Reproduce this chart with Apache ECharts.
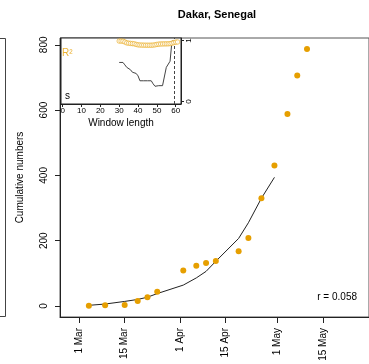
<!DOCTYPE html>
<html>
<head>
<meta charset="utf-8">
<script src="https://cdn.jsdelivr.net/npm/echarts@6/dist/echarts.min.js"></script>
<style>
  html, body { margin: 0; padding: 0; background: #fff; }
  #chart { width: 369px; height: 364px; }
</style>
</head>
<body>
<div id="chart"></div>
<script>
// Reported cumulative cases, Dakar
const reportDates = ['2020-03-04','2020-03-09','2020-03-15','2020-03-19','2020-03-22','2020-03-25',
  '2020-04-02','2020-04-06','2020-04-09','2020-04-12','2020-04-19','2020-04-22','2020-04-26',
  '2020-04-30','2020-05-04','2020-05-07','2020-05-10'];
const cumulativeCases = [1, 2, 3, 15, 27, 44, 109, 123, 132, 138, 168, 208, 330, 430, 588, 706, 787];
// Exponential fit evaluated at the first 14 report dates
const fittedCases = [2, 6, 14, 20, 27, 38, 64, 86, 106, 137, 207, 255, 330, 394];
const growthRateLabel = 'r = 0.058';

// Date axis ticks
const dateTickDays = [0, 14, 31, 45, 61, 75];
const dateTickLabels = ['1 Mar', '15 Mar', '1 Apr', '15 Apr', '1 May', '15 May'];
const caseTicks = [0, 200, 400, 600, 800];

// Window-length scan (inset)
const windowLengths = [30,31,32,33,34,35,36,37,38,39,40,41,42,43,44,45,46,47,48,49,50,
  51,52,53,54,55,56,57,58,59,60,61];
const rSquared = [0.99,0.99,0.988,0.975,0.96,0.955,0.952,0.948,0.945,0.935,0.928,0.925,
  0.924,0.923,0.922,0.922,0.922,0.922,0.924,0.928,0.935,0.94,0.942,0.943,0.944,0.944,
  0.945,0.948,0.955,0.965,0.972,0.975];
const sWindows = [30,31,32,33,34,35,36,37,38,39,40,41,42,43,44,45,46,47,48,49,50,
  51,52,53,54,55,56,57,58,59];
const sValues = [0.64,0.64,0.64,0.60,0.56,0.56,0.52,0.48,0.46,0.46,0.42,0.34,0.34,0.34,
  0.34,0.34,0.34,0.34,0.29,0.25,0.25,0.26,0.26,0.26,0.26,0.56,0.56,0.66,0.99,0.99];
const chosenWindow = 59;
const windowTicks = [0, 10, 20, 30, 40, 50, 60];
const r2Ticks = [0, 1];

const origin = Date.UTC(2020, 2, 1);
function dayOf(s) {
  const p = s.split('-').map(Number);
  return (Date.UTC(p[0], p[1] - 1, p[2]) - origin) / 86400000;
}
const days = reportDates.map(dayOf);
const casePoints = days.map((d, i) => [d, cumulativeCases[i]]);
const fitPoints = fittedCases.map((v, i) => [days[i], v]);
const r2Points = windowLengths.map((w, i) => [w, rSquared[i]]);
const sPoints = sWindows.map((w, i) => [w, sValues[i]]);

const FONT = 'Liberation Sans, Arial, Helvetica, sans-serif';
const ORANGE = '#E69F00';
const INK = '#222';

const chart = echarts.init(document.getElementById('chart'), null, { renderer: 'canvas' });
chart.setOption({
  animation: false,
  backgroundColor: '#fff',
  textStyle: { fontFamily: FONT },
  grid: [
    { left: 60, top: 38, width: 314, height: 279, show: true, borderColor: '#555', borderWidth: 1, backgroundColor: 'transparent' },
    { left: 61, top: 38, width: 120, height: 66, show: true, borderColor: '#222', borderWidth: 1, backgroundColor: '#fff', z: 5 }
  ],
  xAxis: [
    {
      type: 'value', gridIndex: 0, min: -5.86, max: 89.04,
      splitLine: { show: false },
      axisLine: { show: true, onZero: false, lineStyle: { color: INK } },
      axisTick: { show: true, length: 6, lineStyle: { color: INK }, customValues: dateTickDays },
      axisLabel: {
        rotate: 90, margin: 11, fontSize: 10, color: '#000', fontFamily: FONT,
        customValues: dateTickDays,
        formatter: v => dateTickLabels[dateTickDays.indexOf(v)] || ''
      }
    },
    {
      type: 'value', gridIndex: 1, min: -0.9, max: 62.8, z: 6,
      splitLine: { show: false },
      axisLine: { show: true, onZero: false, lineStyle: { color: INK } },
      axisTick: { show: true, length: 3, lineStyle: { color: INK }, customValues: windowTicks },
      axisLabel: { margin: 3, fontSize: 8, color: '#000', fontFamily: FONT, customValues: windowTicks },
      name: 'Window length', nameLocation: 'middle', nameGap: 14,
      nameTextStyle: { fontSize: 10, color: '#000', fontFamily: FONT }
    }
  ],
  yAxis: [
    {
      type: 'value', gridIndex: 0, min: -33.7, max: 820.8,
      splitLine: { show: false },
      axisLine: { show: true, onZero: false, lineStyle: { color: INK } },
      axisTick: { show: true, length: 5, lineStyle: { color: INK }, customValues: caseTicks },
      axisLabel: { rotate: 90, margin: 11, fontSize: 10, color: '#000', fontFamily: FONT, customValues: caseTicks },
      name: 'Cumulative numbers', nameLocation: 'middle', nameGap: 35, nameRotate: 90,
      nameTextStyle: { fontSize: 10, color: '#000', fontFamily: FONT }
    },
    {
      type: 'value', gridIndex: 1, position: 'right', min: -0.04, max: 1.04, z: 6,
      splitLine: { show: false },
      axisLine: { show: true, onZero: false, lineStyle: { color: INK } },
      axisTick: { show: true, length: 3, lineStyle: { color: INK }, customValues: r2Ticks },
      axisLabel: { rotate: 90, margin: 4, fontSize: 8, color: '#000', fontFamily: FONT, customValues: r2Ticks }
    },
    {
      type: 'value', gridIndex: 1, position: 'left', min: -0.04, max: 1.04, show: false
    }
  ],
  series: [
    {
      type: 'line', xAxisIndex: 0, yAxisIndex: 0, data: fitPoints,
      showSymbol: false, symbol: 'none', smooth: false,
      lineStyle: { color: '#222', width: 1 }, z: 3
    },
    {
      type: 'scatter', xAxisIndex: 0, yAxisIndex: 0, data: casePoints,
      symbol: 'circle', symbolSize: 6,
      itemStyle: { color: ORANGE, opacity: 1 }, z: 4
    },
    {
      type: 'scatter', xAxisIndex: 1, yAxisIndex: 1, data: r2Points,
      symbol: 'circle', symbolSize: 4.5, z: 7,
      itemStyle: { color: '#fff', borderColor: 'rgba(230,159,0,0.7)', borderWidth: 1 }
    },
    {
      type: 'line', xAxisIndex: 1, yAxisIndex: 2, data: sPoints,
      showSymbol: false, symbol: 'none', z: 7,
      lineStyle: { color: '#444', width: 1 },
      markLine: {
        silent: true, symbol: 'none', label: { show: false },
        lineStyle: { color: '#444', type: [3, 2], width: 1 },
        data: [{ xAxis: chosenWindow }]
      }
    }
  ],
  graphic: [
    {
      type: 'text', x: 217, y: 15, z: 10,
      style: { text: 'Dakar, Senegal', font: 'bold 11px ' + FONT, fill: '#000', align: 'center', verticalAlign: 'middle' }
    },
    {
      type: 'text', x: 357, y: 297, z: 10,
      style: { text: growthRateLabel, font: '10px ' + FONT, fill: '#000', align: 'right', verticalAlign: 'middle' }
    },
    {
      type: 'text', x: 62, y: 53, z: 10,
      style: { text: 'R²', font: '10px ' + FONT, fill: 'rgba(230,159,0,0.8)', align: 'left', verticalAlign: 'middle' }
    },
    {
      type: 'text', x: 65, y: 96, z: 10,
      style: { text: 's', font: '10px ' + FONT, fill: '#000', align: 'left', verticalAlign: 'middle' }
    },
    {
      type: 'polyline', z: 10,
      shape: { points: [[0, 38.5], [5.5, 38.5], [5.5, 316.5], [0, 316.5]] },
      style: { stroke: '#444', fill: null, lineWidth: 1 }
    }
  ]
});
</script>
</body>
</html>
